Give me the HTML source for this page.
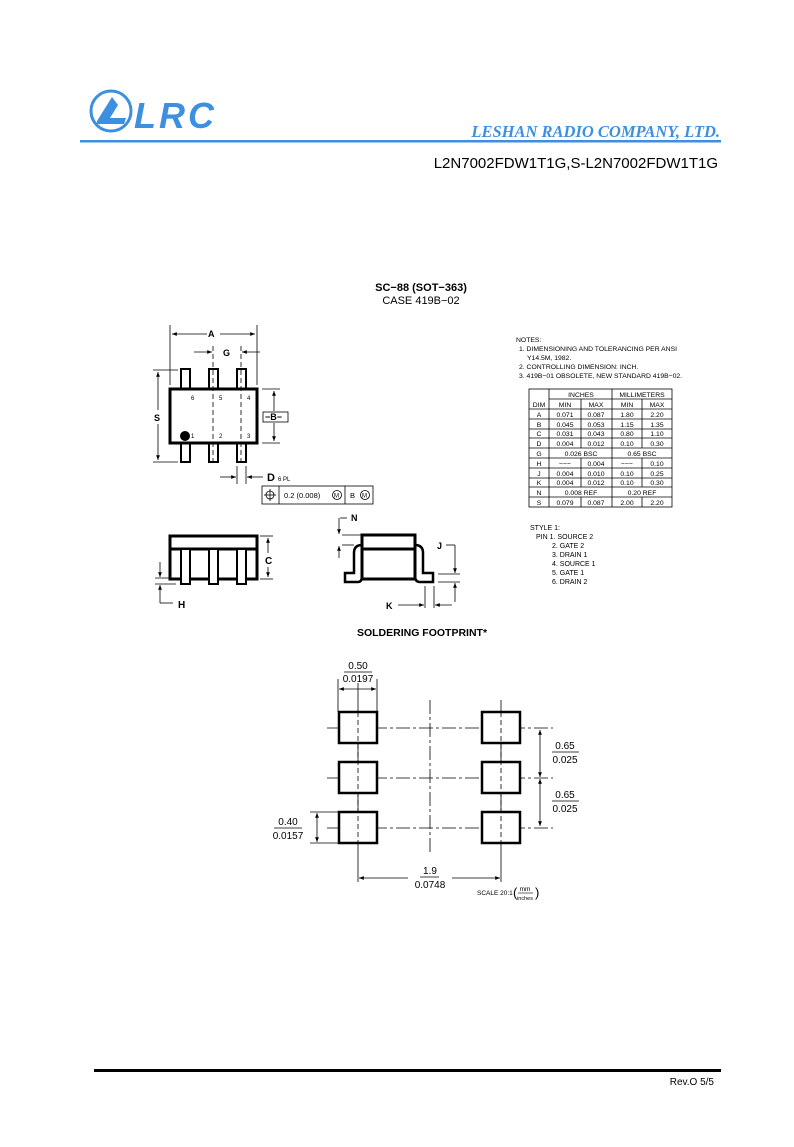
<!DOCTYPE html>
<html><head><meta charset="utf-8"><style>
html,body{margin:0;padding:0;background:#fff}
svg{display:block}
text{font-family:"Liberation Sans",sans-serif}
</style></head><body>
<svg width="794" height="1147" viewBox="0 0 794 1147" xmlns="http://www.w3.org/2000/svg">
<defs>
<marker id="ar" viewBox="0 0 10 10" refX="10" refY="5" markerWidth="6" markerHeight="6" orient="auto-start-reverse"><path d="M0,1 L10,5 L0,9 z" fill="#000"/></marker>
</defs>
<!-- header -->
<circle cx="111" cy="111" r="20" fill="none" stroke="#3d8fe0" stroke-width="3"/>
<path d="M97,121 L112,97 L118,105 L110,118 L126,118 L124,124 L97,124 z" fill="#3d8fe0"/>
<text x="134" y="128" font-size="36" font-weight="bold" font-style="italic" fill="#3d8fe0" style="letter-spacing:3px">LRC</text>
<text x="720" y="137" text-anchor="end" font-size="16.5" font-weight="bold" font-style="italic" fill="#3d8fe0" style="font-family:'Liberation Serif',serif">LESHAN RADIO COMPANY, LTD.</text>
<rect x="80" y="140" width="641" height="2.5" fill="#3d8fe0"/>
<text x="718" y="168" text-anchor="end" font-size="15">L2N7002FDW1T1G,S-L2N7002FDW1T1G</text>

<text x="421" y="291" text-anchor="middle" font-size="11" font-weight="bold">SC−88 (SOT−363)</text>
<text x="421" y="304" text-anchor="middle" font-size="11">CASE 419B−02</text>

<g stroke="#000" fill="none">
<!-- top view -->
<rect x="181" y="369" width="9" height="20" stroke-width="2"/>
<rect x="209" y="369" width="9" height="20" stroke-width="2"/>
<rect x="237" y="369" width="9" height="20" stroke-width="2"/>
<rect x="181" y="443" width="9" height="19" stroke-width="2"/>
<rect x="209" y="443" width="9" height="19" stroke-width="2"/>
<rect x="237" y="443" width="9" height="19" stroke-width="2"/>
<rect x="170" y="389" width="87" height="54" stroke-width="3" fill="#fff"/>
<line x1="213" y1="346" x2="213" y2="462" stroke-dasharray="5,3" stroke-width="0.8"/>
<line x1="241" y1="346" x2="241" y2="462" stroke-dasharray="5,3" stroke-width="0.8"/>
<line x1="170" y1="325" x2="170" y2="385" stroke-width="0.8"/>
<line x1="257" y1="325" x2="257" y2="385" stroke-width="0.8"/>
<line x1="172" y1="334" x2="207" y2="334" stroke-width="0.8" marker-start="url(#ar)"/>
<line x1="220" y1="334" x2="255" y2="334" stroke-width="0.8" marker-end="url(#ar)"/>
<line x1="194" y1="352" x2="212" y2="352" stroke-width="0.8" marker-end="url(#ar)"/>
<line x1="260" y1="352" x2="242" y2="352" stroke-width="0.8" marker-end="url(#ar)"/>
<line x1="153" y1="370" x2="178" y2="370" stroke-width="0.8"/>
<line x1="153" y1="462" x2="178" y2="462" stroke-width="0.8"/>
<line x1="158" y1="372" x2="158" y2="410" stroke-width="0.8" marker-start="url(#ar)"/>
<line x1="158" y1="424" x2="158" y2="460" stroke-width="0.8" marker-end="url(#ar)"/>
<line x1="262" y1="389" x2="280" y2="389" stroke-width="0.8"/>
<line x1="262" y1="443" x2="280" y2="443" stroke-width="0.8"/>
<line x1="274" y1="391" x2="274" y2="411" stroke-width="0.8" marker-start="url(#ar)"/>
<line x1="274" y1="423" x2="274" y2="441" stroke-width="0.8" marker-end="url(#ar)"/>
<rect x="263" y="412" width="25" height="10" stroke-width="0.8"/>
<line x1="237" y1="466" x2="237" y2="484" stroke-width="0.8"/>
<line x1="246" y1="466" x2="246" y2="484" stroke-width="0.8"/>
<line x1="220" y1="477" x2="236" y2="477" stroke-width="0.8" marker-end="url(#ar)"/>
<line x1="263" y1="477" x2="247" y2="477" stroke-width="0.8" marker-end="url(#ar)"/>
<rect x="262" y="486" width="111" height="18" stroke-width="0.8"/>
<line x1="279" y1="486" x2="279" y2="504" stroke-width="0.8"/>
<line x1="345" y1="486" x2="345" y2="504" stroke-width="0.8"/>
<circle cx="270" cy="495" r="4" stroke-width="0.8"/>
<line x1="270" y1="489" x2="270" y2="501" stroke-width="0.8"/>
<line x1="264" y1="495" x2="276" y2="495" stroke-width="0.8"/>
<circle cx="337" cy="495" r="4.5" stroke-width="0.8"/>
<circle cx="365" cy="495" r="4.5" stroke-width="0.8"/>

<!-- side view -->
<rect x="170" y="536" width="87" height="43" stroke-width="3"/>
<line x1="170" y1="549" x2="257" y2="549" stroke-width="3"/>
<rect x="181" y="549" width="9" height="35" stroke-width="2" fill="#fff"/>
<rect x="209" y="549" width="9" height="35" stroke-width="2" fill="#fff"/>
<rect x="237" y="549" width="9" height="35" stroke-width="2" fill="#fff"/>
<line x1="260" y1="536" x2="273" y2="536" stroke-width="0.8"/>
<line x1="260" y1="579" x2="273" y2="579" stroke-width="0.8"/>
<line x1="268" y1="538" x2="268" y2="553" stroke-width="0.8" marker-start="url(#ar)"/>
<line x1="268" y1="567" x2="268" y2="577" stroke-width="0.8" marker-end="url(#ar)"/>
<line x1="155" y1="578" x2="176" y2="578" stroke-width="0.8"/>
<line x1="155" y1="584" x2="176" y2="584" stroke-width="0.8"/>
<line x1="160" y1="562" x2="160" y2="577" stroke-width="0.8" marker-end="url(#ar)"/>
<line x1="160" y1="603" x2="160" y2="585" stroke-width="0.8" marker-end="url(#ar)"/>
<line x1="160" y1="603" x2="173" y2="603" stroke-width="0.8"/>

<!-- end view -->
<rect x="362" y="535" width="53" height="44" stroke-width="3"/>
<line x1="362" y1="549" x2="415" y2="549" stroke-width="3"/>
<path d="M362,545 Q354,545 354,553 L354,573 L345,573 L345,582 L358,582 Q362,582 362,576" stroke-width="2.5"/>
<path d="M415,545 Q423,545 423,553 L423,573 L433,573 L433,582 L420,582 Q415,582 415,576" stroke-width="2.5"/>
<line x1="342" y1="535" x2="362" y2="535" stroke-width="0.8"/>
<line x1="342" y1="545" x2="354" y2="545" stroke-width="0.8"/>
<line x1="340" y1="518" x2="347" y2="518" stroke-width="0.8"/>
<line x1="339" y1="518" x2="339" y2="534" stroke-width="0.8" marker-end="url(#ar)"/>
<line x1="339" y1="558" x2="339" y2="546" stroke-width="0.8" marker-end="url(#ar)"/>
<line x1="438" y1="574" x2="460" y2="574" stroke-width="0.8"/>
<line x1="438" y1="582" x2="460" y2="582" stroke-width="0.8"/>
<line x1="446" y1="545" x2="455" y2="545" stroke-width="0.8"/>
<line x1="455" y1="545" x2="455" y2="573" stroke-width="0.8" marker-end="url(#ar)"/>
<line x1="455" y1="602" x2="455" y2="583" stroke-width="0.8" marker-end="url(#ar)"/>
<line x1="425" y1="586" x2="425" y2="608" stroke-width="0.8"/>
<line x1="434" y1="586" x2="434" y2="608" stroke-width="0.8"/>
<line x1="398" y1="605" x2="424" y2="605" stroke-width="0.8" marker-end="url(#ar)"/>
<line x1="452" y1="605" x2="435" y2="605" stroke-width="0.8" marker-end="url(#ar)"/>
</g>
<circle cx="185" cy="436" r="5" fill="#000"/>
<g font-size="9" font-weight="bold">
<text x="208" y="337">A</text><text x="223" y="356">G</text><text x="154" y="421">S</text>
<text x="265" y="420">−B−</text><text x="267" y="481" font-size="11">D</text>
<text x="351" y="521">N</text><text x="437" y="549">J</text><text x="386" y="609">K</text>
</g>
<rect x="263" y="555" width="11" height="11" fill="#fff"/>
<text x="265" y="564" font-size="10" font-weight="bold">C</text>
<text x="178" y="608" font-size="10" font-weight="bold">H</text>
<g font-size="6">
<text x="191" y="400">6</text><text x="219" y="400">5</text><text x="247" y="400">4</text>
<text x="191" y="438">1</text><text x="219" y="438">2</text><text x="247" y="438">3</text>
<text x="278" y="481">6 PL</text>
<text x="284" y="498" font-size="7.5">0.2 (0.008)</text>
<text x="334" y="497.5" font-size="6">M</text><text x="350" y="498" font-size="7.5">B</text><text x="362" y="497.5" font-size="6">M</text>
</g>

<!-- notes -->
<g font-size="6.8">
<text x="516" y="342">NOTES:</text>
<text x="519" y="351">1. DIMENSIONING AND TOLERANCING PER ANSI</text>
<text x="527" y="360">Y14.5M, 1982.</text>
<text x="519" y="369">2. CONTROLLING DIMENSION: INCH.</text>
<text x="519" y="378">3. 419B−01 OBSOLETE, NEW STANDARD 419B−02.</text>
</g>
<g stroke="#000" stroke-width="0.8" fill="none">
<rect x="529" y="389" width="143" height="118"/>
<line x1="549" y1="389" x2="549" y2="507"/>
<line x1="612" y1="389" x2="612" y2="507"/>
<line x1="549" y1="399" x2="672" y2="399"/>
<line x1="529" y1="409" x2="672" y2="409"/>
<line x1="529" y1="419" x2="672" y2="419"/>
<line x1="529" y1="429" x2="672" y2="429"/>
<line x1="529" y1="438" x2="672" y2="438"/>
<line x1="529" y1="448" x2="672" y2="448"/>
<line x1="529" y1="458" x2="672" y2="458"/>
<line x1="529" y1="468" x2="672" y2="468"/>
<line x1="529" y1="478" x2="672" y2="478"/>
<line x1="529" y1="487" x2="672" y2="487"/>
<line x1="529" y1="497" x2="672" y2="497"/>
<line x1="581" y1="399" x2="581" y2="448"/><line x1="581" y1="458" x2="581" y2="487"/><line x1="581" y1="497" x2="581" y2="507"/>
<line x1="642" y1="399" x2="642" y2="448"/><line x1="642" y1="458" x2="642" y2="487"/><line x1="642" y1="497" x2="642" y2="507"/>
</g>
<g font-size="6.8" text-anchor="middle">
<text x="581" y="397">INCHES</text><text x="642" y="397">MILLIMETERS</text>
<text x="539" y="407">DIM</text><text x="565" y="407">MIN</text><text x="596" y="407">MAX</text><text x="627" y="407">MIN</text><text x="657" y="407">MAX</text>
<text x="539" y="417">A</text><text x="565" y="417">0.071</text><text x="596" y="417">0.087</text><text x="627" y="417">1.80</text><text x="657" y="417">2.20</text>
<text x="539" y="427">B</text><text x="565" y="427">0.045</text><text x="596" y="427">0.053</text><text x="627" y="427">1.15</text><text x="657" y="427">1.35</text>
<text x="539" y="436">C</text><text x="565" y="436">0.031</text><text x="596" y="436">0.043</text><text x="627" y="436">0.80</text><text x="657" y="436">1.10</text>
<text x="539" y="446">D</text><text x="565" y="446">0.004</text><text x="596" y="446">0.012</text><text x="627" y="446">0.10</text><text x="657" y="446">0.30</text>
<text x="539" y="456">G</text><text x="581" y="456">0.026 BSC</text><text x="642" y="456">0.65 BSC</text>
<text x="539" y="466">H</text><text x="565" y="466">−−−</text><text x="596" y="466">0.004</text><text x="627" y="466">−−−</text><text x="657" y="466">0.10</text>
<text x="539" y="476">J</text><text x="565" y="476">0.004</text><text x="596" y="476">0.010</text><text x="627" y="476">0.10</text><text x="657" y="476">0.25</text>
<text x="539" y="485">K</text><text x="565" y="485">0.004</text><text x="596" y="485">0.012</text><text x="627" y="485">0.10</text><text x="657" y="485">0.30</text>
<text x="539" y="495">N</text><text x="581" y="495">0.008 REF</text><text x="642" y="495">0.20 REF</text>
<text x="539" y="505">S</text><text x="565" y="505">0.079</text><text x="596" y="505">0.087</text><text x="627" y="505">2.00</text><text x="657" y="505">2.20</text>
</g>
<g font-size="7">
<text x="530" y="530">STYLE 1:</text>
<text x="536" y="539">PIN 1. SOURCE 2</text>
<text x="552" y="548">2. GATE 2</text>
<text x="552" y="557">3. DRAIN 1</text>
<text x="552" y="566">4. SOURCE 1</text>
<text x="552" y="575">5. GATE 1</text>
<text x="552" y="584">6. DRAIN 2</text>
</g>

<!-- footprint -->
<text x="422" y="636" text-anchor="middle" font-size="10.5" font-weight="bold">SOLDERING FOOTPRINT*</text>
<g stroke="#000" fill="none">
<g stroke-width="0.8" stroke-dasharray="14,3,3,3">
<line x1="327" y1="728" x2="553" y2="728"/>
<line x1="327" y1="778" x2="553" y2="778"/>
<line x1="327" y1="828" x2="553" y2="828"/>
<line x1="430" y1="700" x2="430" y2="852"/>
</g>
<line x1="358" y1="683" x2="358" y2="882" stroke-width="0.8"/>
<line x1="501" y1="700" x2="501" y2="882" stroke-width="0.8"/>
<line x1="338" y1="679" x2="338" y2="712" stroke-width="0.8"/>
<line x1="377" y1="679" x2="377" y2="712" stroke-width="0.8"/>
<line x1="339" y1="689" x2="376" y2="689" stroke-width="0.8" marker-start="url(#ar)" marker-end="url(#ar)"/>
<rect x="339" y="712" width="38" height="31" stroke-width="2.5" fill="#fff"/>
<rect x="339" y="762" width="38" height="31" stroke-width="2.5" fill="#fff"/>
<rect x="339" y="812" width="38" height="31" stroke-width="2.5" fill="#fff"/>
<rect x="482" y="712" width="38" height="31" stroke-width="2.5" fill="#fff"/>
<rect x="482" y="762" width="38" height="31" stroke-width="2.5" fill="#fff"/>
<rect x="482" y="812" width="38" height="31" stroke-width="2.5" fill="#fff"/>
<g stroke-width="0.8" stroke-dasharray="5,3">
<line x1="358" y1="712" x2="358" y2="843"/><line x1="501" y1="712" x2="501" y2="843"/>
</g>
<line x1="540" y1="730" x2="540" y2="777" stroke-width="0.8" marker-start="url(#ar)" marker-end="url(#ar)"/>
<line x1="540" y1="779" x2="540" y2="826" stroke-width="0.8" marker-start="url(#ar)" marker-end="url(#ar)"/>
<line x1="310" y1="812" x2="338" y2="812" stroke-width="0.8"/>
<line x1="310" y1="843" x2="338" y2="843" stroke-width="0.8"/>
<line x1="317" y1="813" x2="317" y2="842" stroke-width="0.8" marker-start="url(#ar)" marker-end="url(#ar)"/>
<line x1="359" y1="878" x2="408" y2="878" stroke-width="0.8" marker-start="url(#ar)"/>
<line x1="452" y1="878" x2="500" y2="878" stroke-width="0.8" marker-end="url(#ar)"/>
<line x1="344" y1="672" x2="372" y2="672" stroke-width="0.7"/>
<line x1="552" y1="752" x2="579" y2="752" stroke-width="0.7"/>
<line x1="552" y1="801" x2="579" y2="801" stroke-width="0.7"/>
<line x1="274" y1="828" x2="302" y2="828" stroke-width="0.7"/>
<line x1="420" y1="877" x2="439" y2="877" stroke-width="0.7"/>
<line x1="518" y1="893" x2="533" y2="893" stroke-width="0.6"/>
</g>
<g font-size="10" text-anchor="middle">
<text x="358" y="669">0.50</text><text x="358" y="682">0.0197</text>
<text x="565" y="749">0.65</text><text x="565" y="763">0.025</text>
<text x="565" y="798">0.65</text><text x="565" y="812">0.025</text>
<text x="288" y="825">0.40</text><text x="288" y="839">0.0157</text>
<text x="430" y="874">1.9</text><text x="430" y="888">0.0748</text>
</g>
<text x="477" y="895" font-size="6.5">SCALE 20:1</text>
<text x="525" y="891" font-size="6.5" text-anchor="middle">mm</text>
<text x="525" y="900" font-size="5.5" text-anchor="middle">inches</text>
<text x="513" y="897" font-size="13">(</text>
<text x="535" y="897" font-size="13">)</text>

<!-- footer -->
<rect x="94" y="1069" width="627" height="3" fill="#000"/>
<text x="714" y="1085" text-anchor="end" font-size="10">Rev.O  5/5</text>
</svg>
</body></html>
